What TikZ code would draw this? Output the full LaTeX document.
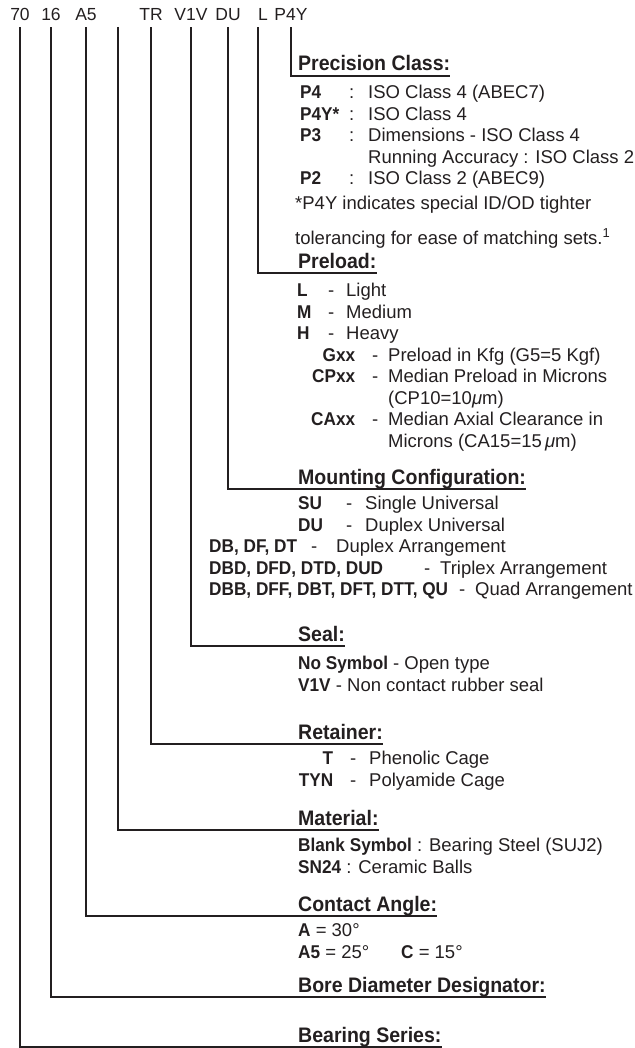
\documentclass[tikz,border=0pt]{standalone}
\usepackage{fontspec}
\setmainfont{Liberation Sans}[BoldFeatures={FakeStretch=0.93}]
\usepackage{array}
\usetikzlibrary{positioning}
\definecolor{ink}{RGB}{35,31,32}
\newcolumntype{K}[1]{>{\bfseries}p{#1}}
\newcolumntype{R}[1]{>{\bfseries\raggedleft\arraybackslash}p{#1}}

\begin{document}
\begin{tikzpicture}[x=1pt,y=-1pt,
  code/.style={font=\fontsize{17.5}{20}\selectfont,text=ink,inner sep=0pt,text depth=0pt,anchor=base},
  head/.style={font=\fontsize{21}{24}\selectfont\bfseries,text=ink,inner sep=0pt,text depth=4.5pt,anchor=base west},
  items/.style={font=\fontsize{18.5}{21.5}\selectfont,text=ink,inner sep=0pt,anchor=base west},
  lead/.style={draw=ink,line width=2pt,shorten <=6.3pt}]
\useasboundingbox (0,0) rectangle (634,1048);

% part number
\node[code] (c70) at (20,20.7) {70};
\node[code] (c16) at (51,20.7) {16};
\node[code] (cA5) at (86,20.7) {A5};
\coordinate (cMat) at (118,20.7);
\node[code] (cTR) at (151,20.7) {TR};
\node[code] (cV1V) at (191,20.7) {V1V};
\node[code] (cDU) at (228,20.7) {DU};
\node[code,anchor=base west] (cL) at (258,20.7) {L};
\node[code] (cP4Y) at (291,20.7) {P4Y};

% headings
\node[head] (hPrec) at (298,71) {Precision Class:};
\node[head] (hPre) at (298,268.5) {Preload:};
\node[head] (hMount) at (298,484.5) {Mounting Configuration:};
\node[head] (hSeal) at (298,641) {Seal:};
\node[head] (hRet) at (298,739) {Retainer:};
\node[head] (hMat) at (298,825.5) {Material:};
\node[head] (hAng) at (298,911.5) {Contact Angle:};
\node[head] (hBore) at (298,992.5) {Bore Diameter Designator:};
\node[head] (hSer) at (298,1042) {Bearing Series:};

% leader lines
\draw[lead] (cP4Y.south) |- (hPrec.south east);
\draw[lead] (cL.south west) |- (hPre.south east);
\draw[lead] (cDU.south) |- (hMount.south east);
\draw[lead] (cV1V.south) |- (hSeal.south east);
\draw[lead] (cTR.south) |- (hRet.south east);
\draw[lead] (cMat) |- (hMat.south east);
\draw[lead] (cA5.south) |- (hAng.south east);
\draw[lead] (c16.south) |- (hBore.south east);
\draw[lead] (c70.south) |- (hSer.south east);

% entries
\node[items] (iPrec) at (300,99) {\begin{tabular}[t]{@{}K{49pt}@{}p{19pt}@{}l@{}}
P4 & : & ISO Class 4 (ABEC7)\\
P4Y* & : & ISO Class 4\\
P3 & : & Dimensions - ISO Class 4\\
 & & Running Accuracy : ISO Class 2\\
P2 & : & ISO Class 2 (ABEC9)
\end{tabular}};
\node[items] (iNote) at (295,210) {\begin{tabular}[t]{@{}l@{}}
*P4Y indicates special ID/OD tighter\\[12.5pt]
tolerancing for ease of matching sets.\textsuperscript{1}
\end{tabular}};
\node[items] (iPreA) at (297,296.5) {\begin{tabular}[t]{@{}K{31pt}@{}p{18pt}@{}l@{}}
L & - & Light\\
M & - & Medium\\
H & - & Heavy
\end{tabular}};
\node[items] (iPreB) at (311,361) {\begin{tabular}[t]{@{}R{44pt}@{\hspace{17pt}}p{16pt}@{}l@{}}
Gxx & - & Preload in Kfg (G5=5 Kgf)\\
CPxx & - & Median Preload in Microns\\
 & & (CP10=10\textit{μ}m)\\
CAxx & - & Median Axial Clearance in\\
 & & Microns (CA15=15\,\textit{μ}m)
\end{tabular}};
\node[items] (iMountA) at (298,509.5) {\begin{tabular}[t]{@{}K{48pt}@{}p{19pt}@{}l@{}}
SU & - & Single Universal\\
DU & - & Duplex Universal
\end{tabular}};
\node[items] (iMountB) at (209,552.5) {\begin{tabular}[t]{@{}l@{}}
\makebox[102pt][l]{\textbf{DB, DF, DT}}\makebox[25pt][l]{-}Duplex Arrangement\\
\makebox[215pt][l]{\textbf{DBD, DFD, DTD, DUD}}\makebox[16pt][l]{-}Triplex Arrangement\\
\makebox[250pt][l]{\textbf{DBB, DFF, DBT, DFT, DTT, QU}}\makebox[16pt][l]{-}Quad Arrangement
\end{tabular}};
\node[items] (iSeal) at (298,669.5) {\begin{tabular}[t]{@{}l@{}}
\textbf{No Symbol} - Open type\\
\textbf{V1V} - Non contact rubber seal
\end{tabular}};
\node[items] (iRet) at (298,764.5) {\begin{tabular}[t]{@{}R{35pt}@{\hspace{17pt}}p{19pt}@{}l@{}}
T & - & Phenolic Cage\\
TYN & - & Polyamide Cage
\end{tabular}};
\node[items] (iMat) at (298,851.5) {\begin{tabular}[t]{@{}l@{}}
\textbf{Blank Symbol} : Bearing Steel (SUJ2)\\
\textbf{SN24} : Ceramic Balls
\end{tabular}};
\node[items] (iAng) at (298,936.5) {\begin{tabular}[t]{@{}l@{}}
\textbf{A} = 30°\\
\makebox[103pt][l]{\textbf{A5} = 25°}\textbf{C} = 15°
\end{tabular}};
\end{tikzpicture}
\end{document}
